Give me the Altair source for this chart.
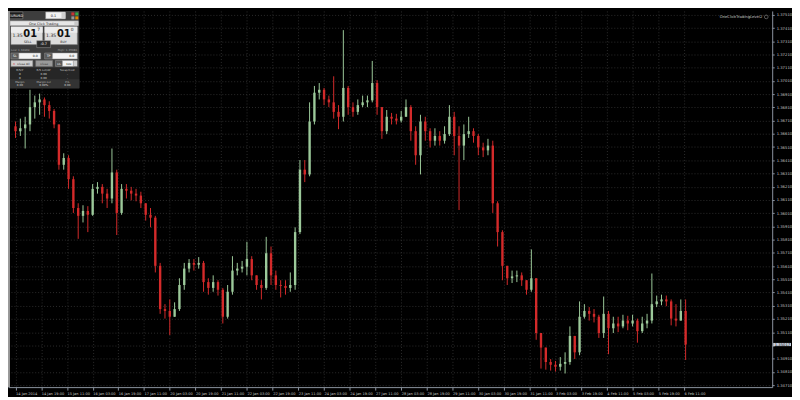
import json
import altair as alt
import pandas as pd

# ---------------- data (EURUSD H1; one candle = 3 hourly bars) ----------------
open_first = 1.36667
close = [
    1.36630, 1.36652, 1.36681, 1.36812, 1.36848, 1.36870, 1.36827, 1.36783, 1.36681, 1.36376,
    1.36427, 1.36267, 1.36049, 1.35990, 1.36027, 1.35998, 1.36194, 1.36209, 1.36158, 1.36121,
    1.36318, 1.36012, 1.36194, 1.36180, 1.36158, 1.36143, 1.36085, 1.35998, 1.35976, 1.35612,
    1.35285, 1.35271, 1.35227, 1.35285, 1.35467, 1.35591, 1.35634, 1.35620, 1.35634, 1.35489,
    1.35445, 1.35489, 1.35431, 1.35227, 1.35416, 1.35576, 1.35591, 1.35605, 1.35663, 1.35540,
    1.35467, 1.35445, 1.35707, 1.35540, 1.35467, 1.35460, 1.35445, 1.35467, 1.35867, 1.36339,
    1.36303, 1.36703, 1.36921, 1.36943, 1.36870, 1.36848, 1.36776, 1.36739, 1.36957, 1.36812,
    1.36776, 1.36827, 1.36848, 1.36863, 1.36994, 1.36812, 1.36630, 1.36739, 1.36725, 1.36710,
    1.36739, 1.36812, 1.36630, 1.36448, 1.36703, 1.36630, 1.36558, 1.36594, 1.36558, 1.36608,
    1.36739, 1.36594, 1.36521, 1.36608, 1.36630, 1.36594, 1.36507, 1.36485, 1.36521, 1.36085,
    1.35867, 1.35612, 1.35518, 1.35532, 1.35540, 1.35503, 1.35431, 1.35518, 1.35104, 1.34994,
    1.34885, 1.34864, 1.34849, 1.34871, 1.34885, 1.35082, 1.34958, 1.35227, 1.35271, 1.35249,
    1.35227, 1.35104, 1.35249, 1.35140, 1.35176, 1.35154, 1.35198, 1.35176, 1.35198, 1.35118,
    1.35176, 1.35198, 1.35322, 1.35343, 1.35358, 1.35343, 1.35213, 1.35198, 1.35271, 1.35017,
]
high = [
    1.36703, 1.36725, 1.36739, 1.36943, 1.36899, 1.36914, 1.36885, 1.36856, 1.36797, 1.36681,
    1.36463, 1.36448, 1.36289, 1.36085, 1.36070, 1.36063, 1.36230, 1.36245, 1.36230, 1.36194,
    1.36499, 1.36339, 1.36230, 1.36230, 1.36209, 1.36194, 1.36172, 1.36085, 1.36049, 1.35990,
    1.35634, 1.35322, 1.35358, 1.35336, 1.35518, 1.35634, 1.35663, 1.35663, 1.35678, 1.35649,
    1.35518, 1.35540, 1.35503, 1.35445, 1.35467, 1.35685, 1.35634, 1.35649, 1.35794, 1.35685,
    1.35540, 1.35503, 1.35831, 1.35758, 1.35576, 1.35503, 1.35503, 1.35562, 1.35903, 1.36412,
    1.36412, 1.36848, 1.36972, 1.36994, 1.36957, 1.36899, 1.37045, 1.36827, 1.37394, 1.36972,
    1.36848, 1.36870, 1.36899, 1.36899, 1.37161, 1.37016, 1.36812, 1.36790, 1.36768, 1.36761,
    1.36783, 1.36870, 1.36827, 1.36667, 1.36754, 1.36739, 1.36652, 1.36652, 1.36630, 1.36667,
    1.36827, 1.36776, 1.36667, 1.36681, 1.36739, 1.36652, 1.36608, 1.36543, 1.36572, 1.36558,
    1.36100, 1.35881, 1.35576, 1.35576, 1.35576, 1.35562, 1.35503, 1.35736, 1.35518, 1.35067,
    1.34958, 1.34907, 1.34893, 1.34922, 1.34958, 1.35154, 1.35082, 1.35343, 1.35322, 1.35300,
    1.35285, 1.35242, 1.35380, 1.35271, 1.35227, 1.35227, 1.35242, 1.35234, 1.35242, 1.35213,
    1.35227, 1.35249, 1.35554, 1.35387, 1.35394, 1.35387, 1.35358, 1.35322, 1.35358, 1.35358,
]
low = [
    1.36579, 1.36594, 1.36499, 1.36630, 1.36725, 1.36754, 1.36739, 1.36725, 1.36652, 1.36339,
    1.36339, 1.36194, 1.36012, 1.35816, 1.35940, 1.35867, 1.35990, 1.36158, 1.36085, 1.36049,
    1.36085, 1.35845, 1.35998, 1.36121, 1.36107, 1.36100, 1.36049, 1.35954, 1.35903, 1.35562,
    1.35249, 1.35213, 1.35089, 1.35227, 1.35271, 1.35431, 1.35562, 1.35576, 1.35591, 1.35416,
    1.35394, 1.35416, 1.35387, 1.35176, 1.35213, 1.35394, 1.35540, 1.35562, 1.35540, 1.35503,
    1.35431, 1.35358, 1.35431, 1.35467, 1.35431, 1.35373, 1.35394, 1.35416, 1.35431, 1.35852,
    1.36245, 1.36289, 1.36681, 1.36870, 1.36827, 1.36812, 1.36725, 1.36645, 1.36703, 1.36754,
    1.36739, 1.36754, 1.36812, 1.36812, 1.36848, 1.36754, 1.36572, 1.36608, 1.36681, 1.36681,
    1.36696, 1.36739, 1.36558, 1.36376, 1.36303, 1.36558, 1.36507, 1.36521, 1.36521, 1.36536,
    1.36594, 1.36448, 1.36034, 1.36412, 1.36579, 1.36543, 1.36448, 1.36434, 1.36448, 1.36012,
    1.35758, 1.35503, 1.35467, 1.35482, 1.35489, 1.35460, 1.35394, 1.35416, 1.35053, 1.34835,
    1.34827, 1.34820, 1.34813, 1.34820, 1.34798, 1.34864, 1.34907, 1.34936, 1.35213, 1.35198,
    1.35184, 1.35067, 1.35067, 1.34944, 1.35104, 1.35111, 1.35140, 1.35125, 1.35154, 1.35031,
    1.35104, 1.35140, 1.35176, 1.35300, 1.35314, 1.35307, 1.35162, 1.35154, 1.35227, 1.34900,
]
time_labels = [
    "14 Jan 2014", "14 Jan 19:00", "15 Jan 11:00", "16 Jan 03:00", "16 Jan 19:00",
    "17 Jan 11:00", "20 Jan 03:00", "20 Jan 19:00", "21 Jan 11:00", "22 Jan 03:00",
    "22 Jan 19:00", "23 Jan 11:00", "24 Jan 03:00", "24 Jan 19:00", "27 Jan 11:00",
    "28 Jan 03:00", "28 Jan 19:00", "29 Jan 11:00", "30 Jan 03:00", "30 Jan 19:00",
    "31 Jan 11:00", "3 Feb 03:00", "3 Feb 19:00", "4 Feb 11:00", "5 Feb 03:00",
    "5 Feb 19:00", "6 Feb 11:00",
]
price_ticks = [
    1.34710, 1.34810, 1.34910, 1.35010, 1.35110, 1.35210, 1.35310, 1.35410, 1.35510, 1.35610,
    1.35710, 1.35810, 1.35910, 1.36010, 1.36110, 1.36210, 1.36310, 1.36410, 1.36510, 1.36610,
    1.36710, 1.36810, 1.36910, 1.37010, 1.37110, 1.37210, 1.37310, 1.37410, 1.37510,
]
bid_price = 1.35017
bars_per_candle = 3
bars_per_label = 16

# ---------------- tables ----------------
opens = [open_first] + close[:-1]
rows = []
for k, (o, c, h, l) in enumerate(zip(opens, close, high, low)):
    rows.append({
        "bar": k * bars_per_candle,
        "open": o, "close": c,
        "high": max(h, o, c), "low": min(l, o, c),
        "dir": "up" if c >= o else "down",
    })
df = pd.DataFrame(rows)

W, H = 772, 380
GREEN, RED = "#9cc99a", "#d42a2a"
AXIS = "#8c94a0"
LBL = "#c4c4c4"
GRID = "#2c2c2c"
FONT = "DejaVu Sans"

xscale = alt.Scale(domain=[-1.6, 467.8], nice=False, zero=False)
yscale = alt.Scale(domain=[1.34695, 1.37539], nice=False, zero=False)
cscale = alt.Scale(domain=["up", "down"], range=[GREEN, RED])

label_expr = json.dumps(time_labels) + "[round(datum.value / %d)]" % bars_per_label
# the price-axis label hidden behind the bid box is left blank
y_label_expr = "abs(datum.value - %.5f) < 0.0002 ? '' : format(datum.value, '.5f')" % bid_price
x_axis = alt.Axis(values=[i * bars_per_label for i in range(len(time_labels))],
                  labelExpr=label_expr, labelAlign="left", labelFontSize=3.6,
                  labelColor=LBL, labelFont=FONT, labelPadding=1, tickSize=3,
                  tickColor=AXIS, domainColor=AXIS, grid=True, gridColor=GRID,
                  gridDash=[1, 2], labelOverlap=False, labelFlush=False, title=None)
y_axis = alt.Axis(orient="right", values=price_ticks, labelExpr=y_label_expr, labelFontSize=3.8,
                  labelColor=LBL, labelFont=FONT, labelPadding=2, tickSize=2,
                  tickColor=AXIS, domainColor=AXIS, grid=True, gridColor=GRID,
                  gridDash=[1, 2], labelOverlap=False, title=None)

base = alt.Chart(df)
wicks = base.mark_rule(strokeWidth=1).encode(
    x=alt.X("bar:Q", scale=xscale, axis=x_axis),
    y=alt.Y("low:Q", scale=yscale, axis=y_axis),
    y2="high:Q",
    color=alt.Color("dir:N", scale=cscale, legend=None),
)
bodies = base.mark_bar(size=2.4).encode(
    x=alt.X("bar:Q", scale=xscale, axis=x_axis),
    y=alt.Y("open:Q", scale=yscale, axis=y_axis),
    y2="close:Q",
    color=alt.Color("dir:N", scale=cscale, legend=None),
)

cur = pd.DataFrame({"p": [bid_price], "lo": [bid_price - 0.00012], "hi": [bid_price + 0.00012],
                    "t": ["%.5f" % bid_price]})
cur_box = alt.Chart(cur).mark_rect(fill="#c9d1de").encode(
    x=alt.value(W + 1), x2=alt.value(W + 19), y=alt.Y("lo:Q", scale=yscale, axis=y_axis), y2="hi:Q")
cur_txt = alt.Chart(cur).mark_text(fontSize=3.8, color="#111111", align="left", baseline="middle",
                                   font=FONT).encode(
    x=alt.value(W + 2.5), y=alt.Y("p:Q", scale=yscale, axis=y_axis), text="t:N")

# ---------------- one click trading panel ----------------
dummy = pd.DataFrame({"a": [0]})


def box(x1, y1, x2, y2, fill, stroke=""):
    kw = {"fill": fill}
    if stroke:
        kw.update(stroke=stroke, strokeWidth=0.5)
    return alt.Chart(dummy).mark_rect(**kw).encode(
        x=alt.value(x1), x2=alt.value(x2), y=alt.value(y1), y2=alt.value(y2))


def txt(x, y, s, size=4.0, color="#ffffff", align="left", weight="normal"):
    return alt.Chart(dummy).mark_text(text=s, fontSize=size, color=color, align=align,
                                      baseline="middle", fontWeight=weight, font=FONT).encode(
        x=alt.value(x), y=alt.value(y))


panel = [
    box(0, 0, 72, 78, "#3d3d3d"),
    box(0, 57, 72, 78, "#262626"),
    box(0, 69, 72, 78, "#333333"),
    box(1, 1, 15, 8, "#1c1c1c", "#9a9a9a"), txt(8, 4.7, "EURUSD", 3.4, "#ffffff", "center"),
    box(38, 1, 58, 8, "#f2f2f2", "#888888"), txt(46, 4.7, "0.1", 3.4, "#111111", "center"),
    box(54, 1.5, 58, 7.5, "#cfcfcf"),
    box(64, 1.5, 67, 4.5, "#cc3333"), box(68, 1.5, 71, 4.5, "#33aa44"),
    box(64, 5.5, 67, 8.5, "#999999"), box(68, 5.5, 71, 8.5, "#dd8800"),
    box(2, 10, 71, 15, "#e6e6e6", "#888888"), txt(36, 12.7, "One Click Trading", 3.4, "#222222", "center"),
    box(67, 10.5, 71, 14.5, "#c8c8c8"),
    box(3, 16, 35, 34, "#dcdcdc", "#8a8a8a"), box(3, 16, 35, 22, "#ececec"),
    box(37, 16, 70, 34, "#dcdcdc", "#8a8a8a"), box(37, 16, 70, 22, "#ececec"),
    txt(4.5, 25, "1.35", 4.6, "#222222"), txt(15.5, 23.5, "01", 10, "#111111", "left", "bold"),
    txt(29.5, 19.5, "7", 4.4, "#222222"), txt(20, 31.5, "SELL", 3.2, "#222222", "center"),
    txt(38.5, 25, "1.35", 4.6, "#222222"), txt(49.5, 23.5, "01", 10, "#111111", "left", "bold"),
    txt(63.5, 19.5, "0", 4.4, "#222222"), txt(56, 31.5, "BUY", 3.2, "#222222", "center"),
    box(29, 30, 43, 37, "#2a2a2a", "#9a9a9a"), txt(36, 33.6, "-0.7", 3.6, "#ffffff", "center"),
    txt(3, 39.8, "Low: 1.34969", 2.8, "#a0a0a0"), txt(70, 39.8, "High: 1.35681", 2.8, "#a0a0a0", "right"),
    box(3, 42.5, 11, 48.5, "#5a5a5a", "#999999"), txt(7, 45.7, "SL", 3.2, "#ffffff", "center"),
    box(11, 42.5, 33, 48.5, "#f4f4f4", "#999999"), txt(30, 45.7, "0.0", 3.2, "#111111", "right"),
    box(37, 42.5, 45, 48.5, "#5a5a5a", "#999999"), txt(41, 45.7, "TP", 3.2, "#ffffff", "center"),
    box(45, 42.5, 70, 48.5, "#f4f4f4", "#999999"), txt(67, 45.7, "0.0", 3.2, "#111111", "right"),
    box(3, 50, 25, 56, "#cfcfcf", "#888888"), txt(4.5, 53.2, "×", 3.6, "#cc2222"),
    txt(15.5, 53.2, "Close All", 2.9, "#222222", "center"),
    box(28, 50, 45, 56, "#9a9a9a", "#777777"), txt(36.5, 53.2, "Close", 2.9, "#333333", "center"),
    box(48, 50, 55, 56, "#5a5a5a", "#999999"), txt(51.5, 53.2, "CL", 2.9, "#ffffff", "center"),
    box(55, 50, 66, 56, "#f4f4f4", "#999999"), txt(64, 53.2, "100", 2.9, "#111111", "right"),
    box(66, 50, 70, 56, "#cfcfcf"),
    txt(12, 60, "B/S/P", 2.8, "#bbbbbb", "center"), txt(36, 60, "B/S Lot/AP", 2.8, "#bbbbbb", "center"),
    txt(60, 60, "Swap/Cost", 2.8, "#bbbbbb", "center"),
    txt(12, 64, "0", 2.8, "#dddddd", "center"), txt(36, 64, "0.00", 2.8, "#dddddd", "center"),
    txt(60, 64, "-", 2.8, "#dddddd", "center"),
    txt(12, 67.5, "0", 2.8, "#dddddd", "center"), txt(36, 67.5, "0.00", 2.8, "#dddddd", "center"),
    txt(60, 67.5, "-", 2.8, "#dddddd", "center"),
    txt(12, 71.5, "Margin", 2.8, "#bbbbbb", "center"), txt(36, 71.5, "Margin Lvl", 2.8, "#bbbbbb", "center"),
    txt(60, 71.5, "P/L", 2.8, "#bbbbbb", "center"),
    txt(12, 75, "0.00", 2.8, "#dddddd", "center"), txt(36, 75, "0.00%", 2.8, "#dddddd", "center"),
    txt(60, 75, "0.00", 2.8, "#dddddd", "center"),
]

corner = [
    txt(W - 10, 6, "OneClickTradingLevel2", 3.8, "#c8c8c8", "right"),
    alt.Chart(dummy).mark_point(shape="circle", size=14, color="#c8c8c8", strokeWidth=0.6).encode(
        x=alt.value(W - 6), y=alt.value(6)),
    alt.Chart(dummy).mark_rule(color="#9a9a9a", strokeWidth=2).encode(
        x=alt.value(1), y=alt.value(0), y2=alt.value(H)),
]

chart = alt.layer(wicks, bodies, cur_box, cur_txt, *panel, *corner).properties(
    width=W, height=H, background="#000000",
    padding={"left": 0, "top": 0, "right": 0, "bottom": 0},
).configure_view(strokeWidth=0).configure_axis(labelOverlap=False)

chart.save("out.html", embed_options={"renderer": "svg", "actions": False})
